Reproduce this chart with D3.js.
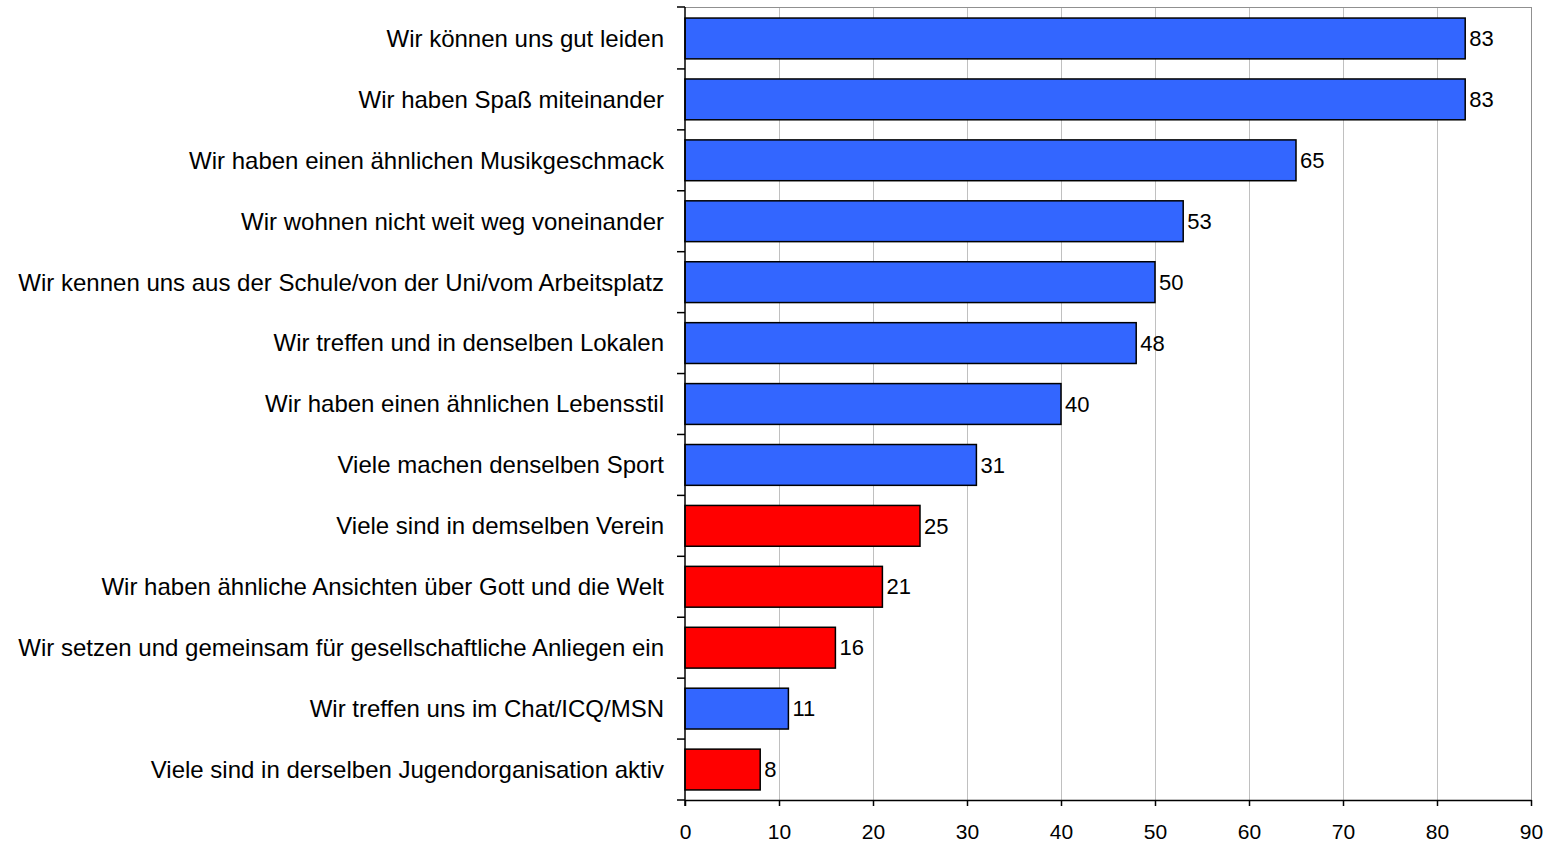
<!DOCTYPE html>
<html><head><meta charset="utf-8">
<script src="https://cdn.jsdelivr.net/npm/d3@7"></script>
<style>body{margin:0;background:#fff;}svg{display:block;font-family:"Liberation Sans",Arial,sans-serif;}</style>
</head><body><svg id="c" width="1556" height="842"></svg>
<script>
const categories = [
  "Wir können uns gut leiden",
  "Wir haben Spaß miteinander",
  "Wir haben einen ähnlichen Musikgeschmack",
  "Wir wohnen nicht weit weg voneinander",
  "Wir kennen uns aus der Schule/von der Uni/vom Arbeitsplatz",
  "Wir treffen und in denselben Lokalen",
  "Wir haben einen ähnlichen Lebensstil",
  "Viele machen denselben Sport",
  "Viele sind in demselben Verein",
  "Wir haben ähnliche Ansichten über Gott und die Welt",
  "Wir setzen und gemeinsam für gesellschaftliche Anliegen ein",
  "Wir treffen uns im Chat/ICQ/MSN",
  "Viele sind in derselben Jugendorganisation aktiv"
];
const values = [83, 83, 65, 53, 50, 48, 40, 31, 25, 21, 16, 11, 8];
const groups = ["b","b","b","b","b","b","b","b","r","r","r","b","r"];
const xTicks = [0,10,20,30,40,50,60,70,80,90];

const colorMap = {b:"#3366FF", r:"#FF0000"};
const svg = d3.select("#c");
const L = 685, R = 1531, T = 8, B = 800;
const x = d3.scaleLinear().domain([0,90]).range([L,R]);
const y = d3.scaleBand().domain(categories).range([T,B]).paddingInner(0.33).paddingOuter(0.165);
const yb = d3.scaleBand().domain(categories).range([T,B]);

// grid
svg.append("g").selectAll("line").data(xTicks.slice(1,-1)).join("line")
  .attr("x1",d=>x(d)).attr("x2",d=>x(d)).attr("y1",T).attr("y2",B)
  .attr("stroke","#c0c0c0").attr("stroke-width",1).attr("shape-rendering","crispEdges");
// plot border top/right
svg.append("path").attr("d",`M${L},${T-0.5}H${R+0.5}V${B}`).attr("fill","none")
  .attr("stroke","#909090").attr("stroke-width",1).attr("shape-rendering","crispEdges");

// bars
svg.append("g").selectAll("rect").data(values).join("rect")
  .attr("x",x(0)).attr("y",(d,i)=>y(categories[i]))
  .attr("width",d=>x(d)-x(0)).attr("height",y.bandwidth())
  .attr("fill",(d,i)=>colorMap[groups[i]]).attr("stroke","#000").attr("stroke-width",1.5);

// value labels
svg.append("g").selectAll("text").data(values).join("text")
  .attr("x",d=>x(d)+4).attr("y",(d,i)=>y(categories[i])+y.bandwidth()/2)
  .attr("dy","0.35em").attr("font-size",22).attr("fill","#000").text(d=>d);

// y axis
const ya = svg.append("g");
ya.append("line").attr("x1",L).attr("x2",L).attr("y1",T-1).attr("y2",B+6).attr("stroke","#000").attr("stroke-width",1.5);
const bounds = [T-1].concat(categories.slice(1).map(c=>yb(c))).concat([B]);
ya.selectAll("line.t").data(bounds).join("line").attr("class","t")
  .attr("x1",L-8).attr("x2",L).attr("y1",d=>d).attr("y2",d=>d).attr("stroke","#000").attr("stroke-width",1.5);
ya.selectAll("text").data(categories).join("text")
  .attr("x",664).attr("y",d=>yb(d)+yb.bandwidth()/2).attr("dy","0.35em")
  .attr("text-anchor","end").attr("font-size",24).attr("fill","#000").text(d=>d);

// x axis
const xa = svg.append("g").attr("transform",`translate(0,${B})`)
  .call(d3.axisBottom(x).tickValues(xTicks).tickSize(6).tickPadding(18).tickSizeOuter(0));
xa.select(".domain").attr("stroke","#000").attr("stroke-width",1.5);
xa.selectAll(".tick line").attr("stroke","#000").attr("stroke-width",1.5);
xa.selectAll("text").attr("font-size",21).attr("fill","#000").attr("font-family","Liberation Sans, Arial, sans-serif");
</script></body></html>
